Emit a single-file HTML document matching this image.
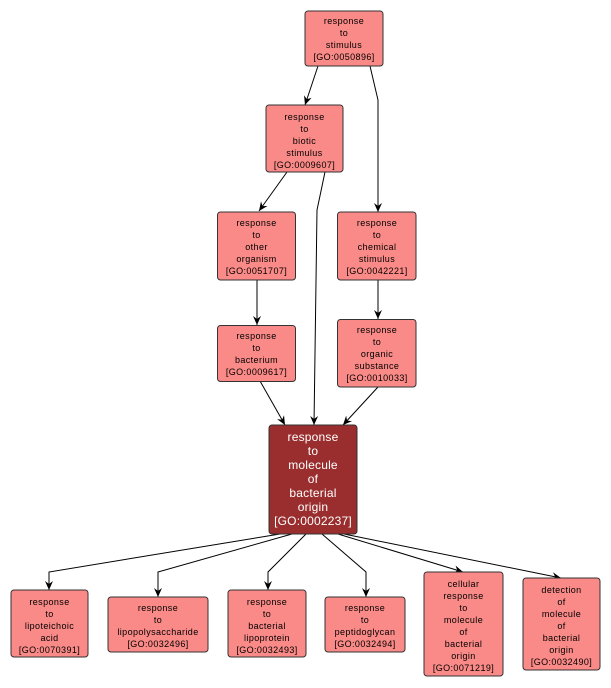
<!DOCTYPE html>
<html><head><meta charset="utf-8"><style>
html,body{margin:0;padding:0;background:#fff;}
svg{display:block;}
.n{fill:#fa8a87;stroke:#333;stroke-width:1;}
.m{fill:#9a2e2e;stroke:#333;stroke-width:1;}
text{font-family:"Liberation Sans",sans-serif;font-size:9px;text-anchor:middle;fill:#000;letter-spacing:0.4px;}
.w{font-size:12px;fill:#fff;letter-spacing:0.2px;}
.e{fill:none;stroke:#000;stroke-width:1;marker-end:url(#a);}
</style></head><body>
<svg width="611" height="688" viewBox="0 0 611 688" xmlns="http://www.w3.org/2000/svg">
<defs><marker id="a" markerWidth="10" markerHeight="10" refX="9" refY="5" orient="auto" markerUnits="userSpaceOnUse"><path d="M0,1 L9,5 L0,9 L3,5 Z" fill="#000"/></marker></defs>
<!-- edges -->
<path class="e" d="M318,66 L305,105"/>
<path class="e" d="M370,66 L378,100 L378,212"/>
<path class="e" d="M287,172 L259,211"/>
<path class="e" d="M325,172 L317,210 L314,425"/>
<path class="e" d="M257,280 L257,325"/>
<path class="e" d="M378,280 L378,319"/>
<path class="e" d="M260,381 L285,425"/>
<path class="e" d="M378,387 L343,425"/>
<path class="e" d="M280,534 L49,572 L49,590"/>
<path class="e" d="M292,534 L158,572 L158,597"/>
<path class="e" d="M306,534 L268,572 L268,590"/>
<path class="e" d="M322,534 L366,572 L366,597"/>
<path class="e" d="M338,534 L463,572"/>
<path class="e" d="M344,534 L561,578"/>
<!-- nodes -->
<rect class="n" x="305" y="11" width="78" height="55" rx="3"/>
<text x="344" y="24">response</text><text x="344" y="36">to</text><text x="344" y="48">stimulus</text><text x="344" y="60">[GO:0050896]</text>

<rect class="n" x="266" y="105" width="77" height="67" rx="3"/>
<text x="304.5" y="120">response</text><text x="304.5" y="132">to</text><text x="304.5" y="144">biotic</text><text x="304.5" y="156">stimulus</text><text x="304.5" y="168">[GO:0009607]</text>

<rect class="n" x="217.5" y="212" width="78" height="68" rx="3"/>
<text x="256.5" y="226">response</text><text x="256.5" y="238">to</text><text x="256.5" y="250">other</text><text x="256.5" y="262">organism</text><text x="256.5" y="274">[GO:0051707]</text>

<rect class="n" x="337.5" y="212" width="78.5" height="68" rx="3"/>
<text x="377" y="226">response</text><text x="377" y="238">to</text><text x="377" y="250">chemical</text><text x="377" y="262">stimulus</text><text x="377" y="274">[GO:0042221]</text>

<rect class="n" x="217.5" y="325.5" width="78" height="56" rx="3"/>
<text x="256.5" y="339">response</text><text x="256.5" y="351">to</text><text x="256.5" y="363">bacterium</text><text x="256.5" y="375">[GO:0009617]</text>

<rect class="n" x="337.5" y="319.5" width="78.5" height="67.5" rx="3"/>
<text x="377" y="333">response</text><text x="377" y="345">to</text><text x="377" y="357">organic</text><text x="377" y="369">substance</text><text x="377" y="381">[GO:0010033]</text>

<rect class="m" x="269" y="425" width="88" height="109" rx="3"/>
<text class="w" x="313" y="441">response</text><text class="w" x="313" y="455">to</text><text class="w" x="313" y="469">molecule</text><text class="w" x="313" y="483">of</text><text class="w" x="313" y="497">bacterial</text><text class="w" x="313" y="511">origin</text><text class="w" x="313" y="525">[GO:0002237]</text>

<rect class="n" x="11" y="590" width="77" height="67" rx="3"/>
<text x="49.5" y="605">response</text><text x="49.5" y="617">to</text><text x="49.5" y="629">lipoteichoic</text><text x="49.5" y="641">acid</text><text x="49.5" y="653">[GO:0070391]</text>

<rect class="n" x="108" y="597" width="100" height="55" rx="3"/>
<text x="158" y="611">response</text><text x="158" y="623">to</text><text x="158" y="635">lipopolysaccharide</text><text x="158" y="647">[GO:0032496]</text>

<rect class="n" x="228" y="590" width="78" height="67" rx="3"/>
<text x="267" y="605">response</text><text x="267" y="617">to</text><text x="267" y="629">bacterial</text><text x="267" y="641">lipoprotein</text><text x="267" y="653">[GO:0032493]</text>

<rect class="n" x="325" y="597" width="80" height="55" rx="3"/>
<text x="365" y="611">response</text><text x="365" y="623">to</text><text x="365" y="635">peptidoglycan</text><text x="365" y="647">[GO:0032494]</text>

<rect class="n" x="424" y="572" width="79" height="104" rx="3"/>
<text x="463.5" y="587">cellular</text><text x="463.5" y="599">response</text><text x="463.5" y="611">to</text><text x="463.5" y="623">molecule</text><text x="463.5" y="635">of</text><text x="463.5" y="647">bacterial</text><text x="463.5" y="659">origin</text><text x="463.5" y="671">[GO:0071219]</text>

<rect class="n" x="523" y="578" width="77" height="92" rx="3"/>
<text x="561.5" y="593">detection</text><text x="561.5" y="605">of</text><text x="561.5" y="617">molecule</text><text x="561.5" y="629">of</text><text x="561.5" y="641">bacterial</text><text x="561.5" y="653">origin</text><text x="561.5" y="665">[GO:0032490]</text>
</svg>
</body></html>
